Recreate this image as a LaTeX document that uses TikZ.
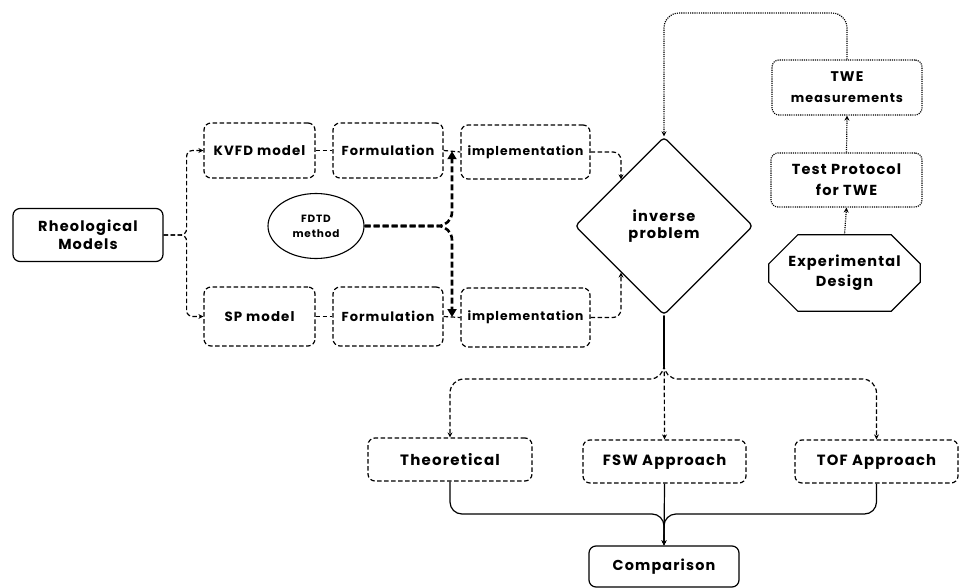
\documentclass[tikz,border=0pt]{standalone}
\usepackage{fontspec}
\setmainfont{Poppins}[LetterSpace=8]
\usetikzlibrary{shapes.geometric,arrows.meta,calc}
\newcommand{\fs}[2]{\fontsize{#1}{#2}\selectfont\bfseries}
\begin{document}
\begin{tikzpicture}[x=1pt,y=-1pt,
  every node/.style={font=\fs{13}{18}, align=center, inner sep=0pt},
  bx/.style={rounded corners=7pt, line width=1.2pt, minimum width=#1},
  sbox/.style={bx=#1, draw},
  dbox/.style={bx=#1, draw, dash pattern=on 4.5pt off 2.5pt},
  obox/.style={bx=#1, draw, dash pattern=on 1.1pt off 1.1pt},
  tip/.style={-{Stealth[length=5pt,width=5pt]}},
  dl/.style={line width=1.2pt, dash pattern=on 4.5pt off 2.5pt},
  sl/.style={line width=1.2pt},
  ol/.style={line width=1.2pt, dash pattern=on 1.1pt off 1.1pt},
  fdt/.style={line width=2.6pt, dash pattern=on 6pt off 3pt, -{Triangle[length=8pt,width=9pt]}},
]
\fill[white] (0,0) rectangle (960,588);
\useasboundingbox (0,0) rectangle (960,588);

% nodes
\node[sbox=150pt, minimum height=53pt, font=\fs{14.5}{18}] (rm) at (88,235) {Rheological\\Models};
\node[dbox=111pt, minimum height=55pt, font=\fs{13.4}{18}] (kv) at (259.5,150.5) {KVFD model};
\node[dbox=110pt, minimum height=55pt, font=\fs{13}{18}] (f1) at (388,150.5) {Formulation};
\node[dbox=129pt, minimum height=54pt, font=\fs{12.3}{18}] (i1) at (525.5,152) {implementation};
\node[dbox=111pt, minimum height=59pt, font=\fs{13.4}{18}] (sp) at (259.5,316.5) {SP model};
\node[dbox=110pt, minimum height=59pt, font=\fs{13}{18}] (f2) at (388,316.5) {Formulation};
\node[dbox=129pt, minimum height=59pt, font=\fs{12.3}{18}] (i2) at (525.5,317.5) {implementation};
\node[draw, ellipse, line width=1.1pt, minimum width=96pt, minimum height=65pt,
      font=\fs{10.5}{15}] (fd) at (316,226) {FDTD\\method};
\node[draw, diamond, aspect=1, minimum width=178pt, minimum height=178pt, rounded corners=4pt,
      line width=1.3pt, font=\fs{14.6}{17}] (ip) at (664,226) {inverse\\problem};
\node[obox=150pt, minimum height=55pt, font=\fs{12.7}{21}] (twe) at (847,87.5) {{\fs{14}{21}TWE}\\measurements};
\node[obox=151pt, minimum height=54pt, font=\fs{14.5}{21}] (tp) at (846.5,180) {Test Protocol\\for TWE};
\node[minimum width=151pt, minimum height=76pt, font=\fs{14.5}{20}] (ed) at (844.5,273) {Experimental\\Design};
\draw[line width=1.2pt] ($(ed.north west)+(29,0)$) -- ($(ed.north east)+(-29,0)$)
  -- ($(ed.north east)+(0,29)$) -- ($(ed.south east)+(0,-29)$)
  -- ($(ed.south east)+(-29,0)$) -- ($(ed.south west)+(29,0)$)
  -- ($(ed.south west)+(0,-29)$) -- ($(ed.north west)+(0,29)$) -- cycle;
\node[dbox=164pt, minimum height=43pt, font=\fs{15}{18}] (th) at (450,459.5) {Theoretical};
\node[dbox=163pt, minimum height=43pt, font=\fs{14.8}{18}] (fsw) at (664.5,461.5) {FSW Approach};
\node[dbox=163pt, minimum height=43pt, font=\fs{14.8}{18}] (tof) at (876.5,461.5) {TOF Approach};
\node[sbox=150pt, minimum height=41pt, font=\fs{14.4}{18}] (cp) at (664,566.5) {Comparison};

% helper coordinates
\coordinate (g1) at ($(f1.east)!0.5!(i1.west)$);
\coordinate (g2) at ($(f2.east)!0.5!(i2.west)$);
\coordinate (t1) at ($(ip.north)!0.48!(ip.west)$);
\coordinate (t2) at ($(ip.south)!0.48!(ip.west)$);
\coordinate (lvl) at (0,379);
\coordinate (fork) at (0,366);
\coordinate (mlv) at (0,514);
\coordinate (toplv) at (0,13);

% connectors
\draw[dl, tip, rounded corners=6pt] (rm.east) -- ++(23,0) |- (kv.west);
\draw[dl, tip, rounded corners=6pt] (rm.east) -- ++(23,0) |- (sp.west);
\draw[dl] (kv) -- (f1);
\draw[dl] (sp) -- (f2);
\draw[dl] (f1.east) -- (i1.west);
\draw[dl] (f2.east) -- (i2.west);
\draw[fdt, rounded corners=14pt] (fd.east) -| (g1);
\draw[fdt, rounded corners=14pt] (fd.east) -| (g2);
\draw[dl, tip, rounded corners=8pt] (i1.east) -| (t1);
\draw[dl, tip, rounded corners=8pt] (i2.east) -| (t2);

\draw[sl, line width=1.6pt] (ip.south) -- (ip.south |- fork);
\draw[dl, tip, rounded corners=14pt] (ip.south) |- (th.north |- lvl) -- (th.north);
\draw[dl, tip] (ip.south) -- (fsw.north);
\draw[dl, tip, rounded corners=14pt] (ip.south) |- (tof.north |- lvl) -- (tof.north);

\draw[sl, tip, rounded corners=12pt] (th.south) |- (cp.north |- mlv) -- (cp.north);
\draw[sl, tip] (fsw.south) -- (cp.north);
\draw[sl, tip, rounded corners=12pt] (tof.south) |- (cp.north |- mlv) -- (cp.north);

\draw[ol, tip, rounded corners=15pt] (twe.north) |- (ip.north |- toplv) -- (ip.north);
\draw[ol, tip] (tp.north) -- (twe.south);
\draw[ol, tip] (ed.north) -- (tp.south);
\end{tikzpicture}
\end{document}
